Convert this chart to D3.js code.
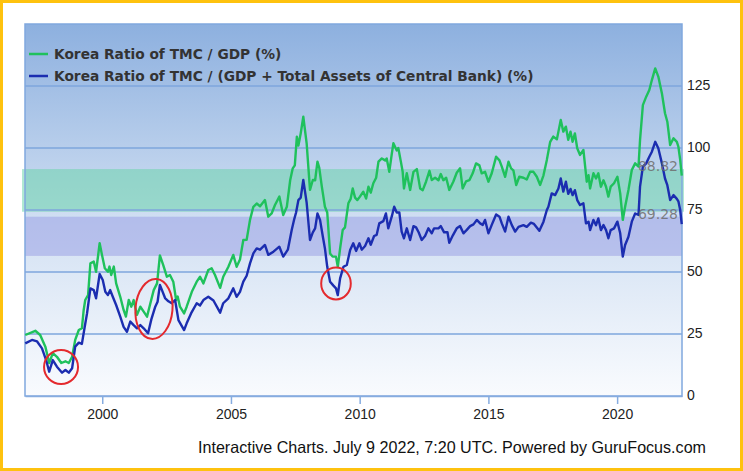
<!DOCTYPE html>
<html><head><meta charset="utf-8">
<script src="https://cdn.jsdelivr.net/npm/d3@7"></script>
<style>body{margin:0;background:#fff;} svg{display:block}</style>
</head><body>
<svg id="c" width="743" height="471"></svg>
<script>
// ---------- data ----------
const seriesNames = ["Korea Ratio of TMC / GDP (%)", "Korea Ratio of TMC / (GDP + Total Assets of Central Bank) (%)"];
const greenSeries = [[1997.01,24.6],[1997.40,26.3],[1997.59,24.6],[1997.79,19.9],[1997.94,13.3],[1998.08,17.3],[1998.24,15.8],[1998.41,13.3],[1998.57,14],[1998.70,13.3],[1998.83,15.8],[1998.95,22.6],[1999.09,26.6],[1999.21,27.3],[1999.28,34.7],[1999.34,38.7],[1999.45,40.7],[1999.54,53.5],[1999.67,54.2],[1999.76,50.1],[1999.90,61.6],[1999.99,56.9],[2000.10,51.5],[2000.22,50.1],[2000.28,52.2],[2000.35,48.8],[2000.45,52.2],[2000.54,45.4],[2000.70,40],[2000.83,34.7],[2000.92,32],[2001.03,38.7],[2001.13,36],[2001.22,38.7],[2001.35,32.7],[2001.48,36],[2001.61,34],[2001.74,32],[2001.87,37.4],[2002.00,42.7],[2002.13,45.4],[2002.24,56.7],[2002.37,52.8],[2002.51,48.1],[2002.63,48.8],[2002.76,46.1],[2002.87,38.7],[2002.93,40.1],[2003.02,36],[2003.18,33.3],[2003.28,36],[2003.48,42],[2003.67,46.1],[2003.80,48.1],[2003.93,45.4],[2004.12,50.8],[2004.25,51.5],[2004.38,48.8],[2004.58,43.6],[2004.70,48.1],[2004.90,52.1],[2005.09,56.9],[2005.22,52.1],[2005.35,55],[2005.48,62.9],[2005.61,63],[2005.74,71],[2005.87,76.3],[2006.00,77.6],[2006.13,76.5],[2006.32,79],[2006.45,72.3],[2006.58,73.6],[2006.71,77],[2006.88,80.4],[2007.03,73],[2007.17,76.3],[2007.30,87],[2007.40,91.8],[2007.48,93],[2007.56,104.6],[2007.62,101],[2007.71,105.9],[2007.81,112.6],[2007.94,101.9],[2008.07,83.1],[2008.18,87.1],[2008.27,87],[2008.36,94.5],[2008.43,92],[2008.53,84.4],[2008.65,76.3],[2008.74,74],[2008.85,57.5],[2008.95,56.2],[2009.08,56.2],[2009.15,52.1],[2009.24,59.5],[2009.34,66.9],[2009.43,68],[2009.56,77.7],[2009.65,79.5],[2009.73,83.7],[2009.82,80],[2009.91,79],[2010.01,80.4],[2010.14,82.4],[2010.25,79.6],[2010.34,84.4],[2010.43,82],[2010.53,85.8],[2010.64,88],[2010.73,94.5],[2010.86,95.8],[2010.99,95],[2011.05,95.8],[2011.15,90.4],[2011.25,97.8],[2011.31,101.9],[2011.44,99],[2011.50,100],[2011.60,94.5],[2011.67,90.4],[2011.72,83.7],[2011.83,89.8],[2011.96,83.1],[2012.09,90.4],[2012.22,91.5],[2012.35,83.7],[2012.45,83],[2012.58,86.5],[2012.71,90.8],[2012.80,87.1],[2012.93,88],[2013.06,87],[2013.15,89.5],[2013.25,87],[2013.36,88],[2013.48,83.1],[2013.64,86.5],[2013.77,90],[2013.90,91.8],[2014.00,83.7],[2014.13,86.5],[2014.26,87],[2014.39,89.8],[2014.52,93.8],[2014.65,93],[2014.74,89.8],[2014.87,90.4],[2015.00,86.4],[2015.13,89.8],[2015.30,96.5],[2015.43,95],[2015.52,92.5],[2015.65,88.4],[2015.78,94.5],[2015.88,91.8],[2015.97,91],[2016.08,85.1],[2016.20,88.4],[2016.36,88],[2016.49,87.3],[2016.62,90.4],[2016.75,90.4],[2016.88,88.4],[2017.01,85.1],[2017.14,89],[2017.27,95.2],[2017.40,102.5],[2017.52,104.6],[2017.66,103.5],[2017.72,106.6],[2017.81,111.3],[2017.91,106.6],[2018.01,108.6],[2018.10,103.3],[2018.19,106.6],[2018.27,102.5],[2018.36,105.9],[2018.45,99.9],[2018.56,97.2],[2018.69,99.2],[2018.82,86.4],[2018.89,89],[2018.95,83.7],[2019.08,89.8],[2019.18,87.7],[2019.27,89.8],[2019.37,84.4],[2019.47,87],[2019.57,84.4],[2019.66,80.4],[2019.75,84.4],[2019.88,85.8],[2020.01,88.4],[2020.12,81.7],[2020.22,71],[2020.31,76.3],[2020.44,83.1],[2020.57,91.1],[2020.70,93.8],[2020.83,92.5],[2020.89,103.2],[2021.00,117.3],[2021.13,120.7],[2021.25,123.4],[2021.35,127.4],[2021.48,132.1],[2021.60,128.8],[2021.74,122],[2021.86,114],[2021.95,110.6],[2022.06,101.2],[2022.19,103.9],[2022.32,102.5],[2022.38,100.5],[2022.45,95.2],[2022.51,88.82]];
const blueSeries = [[1997.01,21.2],[1997.27,22.6],[1997.47,22],[1997.66,19.2],[1997.82,14.5],[1997.94,9.8],[1998.08,14.5],[1998.24,11.8],[1998.44,9.4],[1998.57,10.5],[1998.70,9.4],[1998.83,11.2],[1998.95,19.9],[1999.09,21.5],[1999.21,21],[1999.32,27.9],[1999.41,33.3],[1999.54,43.4],[1999.67,42.7],[1999.76,39.4],[1999.90,49.2],[2000.02,46.8],[2000.12,42],[2000.22,40.7],[2000.31,42.7],[2000.41,40],[2000.54,36.7],[2000.70,32],[2000.83,27.9],[2000.96,25.9],[2001.09,30],[2001.22,28.6],[2001.35,27.3],[2001.48,28.6],[2001.61,27.3],[2001.78,25.3],[2001.91,31],[2002.06,36],[2002.15,38],[2002.24,44.8],[2002.44,39.5],[2002.57,38.2],[2002.70,37.4],[2002.83,38.7],[2002.96,30.6],[2003.18,26.6],[2003.28,29.3],[2003.45,33.3],[2003.67,37.4],[2003.80,36.5],[2003.93,38.7],[2004.12,40],[2004.32,38.5],[2004.58,33.6],[2004.70,37.4],[2004.90,39.4],[2005.09,43.4],[2005.22,40],[2005.35,42],[2005.48,46.1],[2005.61,48.5],[2005.74,53.5],[2005.87,57.5],[2006.00,59.5],[2006.13,59],[2006.32,60.9],[2006.45,56.9],[2006.65,58.2],[2006.88,60.2],[2007.03,56.2],[2007.21,59],[2007.36,66.9],[2007.45,71],[2007.53,74],[2007.62,79],[2007.71,80],[2007.81,87.1],[2007.94,78],[2008.07,62.9],[2008.18,66],[2008.27,67.6],[2008.36,73.6],[2008.46,71],[2008.57,64.2],[2008.65,59.5],[2008.74,52.1],[2008.85,46.1],[2008.98,44.5],[2009.08,43.4],[2009.15,40.7],[2009.24,47.4],[2009.37,52.1],[2009.50,52.8],[2009.63,58.9],[2009.75,61.6],[2009.86,58.5],[2009.99,61.6],[2010.08,59],[2010.21,60.5],[2010.34,63.6],[2010.43,61],[2010.56,64.5],[2010.66,65],[2010.76,69.6],[2010.92,70.5],[2011.02,73.6],[2011.11,67.6],[2011.25,72.5],[2011.34,76.3],[2011.44,74],[2011.54,74],[2011.63,66.3],[2011.72,63.6],[2011.83,67.6],[2011.96,62.9],[2012.09,68.5],[2012.19,68],[2012.29,66],[2012.41,62.9],[2012.54,64.5],[2012.67,67.6],[2012.80,65.6],[2012.89,67.6],[2013.06,67.6],[2013.15,68.5],[2013.28,66],[2013.41,66],[2013.48,61.8],[2013.62,64.8],[2013.77,67.6],[2013.90,68.5],[2014.03,65.6],[2014.16,67],[2014.29,68.5],[2014.42,69.2],[2014.55,71],[2014.68,69.6],[2014.78,69],[2014.87,71],[2015.00,65.6],[2015.13,69],[2015.30,73.2],[2015.43,72.3],[2015.52,69.6],[2015.65,66.3],[2015.78,72.3],[2015.91,68.9],[2016.04,66.3],[2016.17,68.2],[2016.36,68.9],[2016.49,68.2],[2016.65,69.9],[2016.77,69.4],[2016.98,66.6],[2017.14,70.3],[2017.27,75],[2017.33,76.3],[2017.46,81.7],[2017.59,81],[2017.72,83.7],[2017.81,87.7],[2017.91,82.4],[2018.01,86.4],[2018.10,81.5],[2018.19,83.5],[2018.27,81],[2018.36,83],[2018.45,79],[2018.56,77],[2018.69,77.7],[2018.79,69.6],[2018.89,70.3],[2018.95,66.9],[2019.08,71],[2019.18,68.9],[2019.27,71.6],[2019.37,66.9],[2019.47,68.9],[2019.57,66.9],[2019.66,63.6],[2019.75,66.9],[2019.88,67.6],[2020.01,70.3],[2020.12,65.6],[2020.22,56.2],[2020.31,60.9],[2020.44,64.2],[2020.57,70.3],[2020.70,73.6],[2020.83,73],[2020.89,84.4],[2021.00,92.5],[2021.13,93.8],[2021.25,96.5],[2021.35,98.5],[2021.48,102.5],[2021.60,99.9],[2021.74,93.8],[2021.86,87.7],[2021.95,85],[2022.06,79],[2022.19,81],[2022.32,79.5],[2022.38,78.5],[2022.45,75],[2022.51,69.28]];
const yTicks = [0, 25, 50, 75, 100, 125];
const xTicks = [2000, 2005, 2010, 2015, 2020];
const greenBand = [74.3, 91.5];
const blueBand = [56.5, 72.3];
const endLabels = ["88.82", "69.28"];
const xDomain = [1997.0, 2022.52];
const yDomain = [0, 150];
// red annotation ellipses, centres in data units: [year, value, rx(px), ry(px), rotation]
const circleNotes = [[1998.40, 11.7, 17, 17, 0], [2002.01, 35.1, 18.5, 30, 5], [2009.08, 45.4, 14.8, 16, 0]];
const footerText = "Interactive Charts. July 9 2022, 7:20 UTC. Powered by GuruFocus.com";

// ---------- layout ----------
const L = 25, R = 682, T = 24, B = 396;
const svg = d3.select("#c");
const x = d3.scaleLinear().domain(xDomain).range([L, R]);
const y = d3.scaleLinear().domain(yDomain).range([B, T]);

// outer frame
svg.append("rect").attr("x", 0).attr("y", 0).attr("width", 743).attr("height", 471).attr("fill", "#fff");
svg.append("rect").attr("x", 1.5).attr("y", 1.5).attr("width", 740).attr("height", 468)
  .attr("fill", "none").attr("stroke", "#FEC20F").attr("stroke-width", 3);

// background gradient
const defs = svg.append("defs");
const grad = defs.append("linearGradient").attr("id", "bg").attr("x1", 0).attr("y1", 0).attr("x2", 0).attr("y2", 1);
grad.append("stop").attr("offset", "0%").attr("stop-color", "#8db0df");
grad.append("stop").attr("offset", "55%").attr("stop-color", "#d3e1f3");
grad.append("stop").attr("offset", "100%").attr("stop-color", "#f9fbfe");
svg.append("rect").attr("x", L).attr("y", T).attr("width", R - L).attr("height", B - T).attr("fill", "url(#bg)");

// bands
svg.append("rect").attr("x", L - 3).attr("width", R - L + 5)
  .attr("y", y(greenBand[1])).attr("height", y(greenBand[0]) - y(greenBand[1]))
  .attr("fill", "rgb(100,212,165)").attr("fill-opacity", 0.5);
svg.append("rect").attr("x", L).attr("width", R - L)
  .attr("y", y(blueBand[1])).attr("height", y(blueBand[0]) - y(blueBand[1]))
  .attr("fill", "rgb(150,155,228)").attr("fill-opacity", 0.5);

// grid lines
svg.append("g").selectAll("line").data(yTicks.filter(d => d > 0)).join("line")
  .attr("x1", L).attr("x2", R).attr("y1", d => y(d)).attr("y2", d => y(d))
  .attr("stroke", "#7ea6dc").attr("stroke-width", 1.5);

// plot border
svg.append("rect").attr("x", L).attr("y", T).attr("width", R - L).attr("height", B - T)
  .attr("fill", "none").attr("stroke", "#80a8de").attr("stroke-width", 1.5);

// lines
const line = d3.line().x(d => x(d[0])).y(d => y(d[1]));
svg.append("path").datum(greenSeries).attr("d", line).attr("fill", "none")
  .attr("stroke", "#1fc15c").attr("stroke-width", 2.4).attr("stroke-linejoin", "round");
svg.append("path").datum(blueSeries).attr("d", line).attr("fill", "none")
  .attr("stroke", "#1b2db0").attr("stroke-width", 2.4).attr("stroke-linejoin", "round");

// end labels
const lastVals = [greenSeries[greenSeries.length - 1], blueSeries[blueSeries.length - 1]];
svg.append("g").selectAll("text").data(endLabels).join("text")
  .attr("x", R - 4).attr("y", (d, i) => y(lastVals[i][1]) - 9)
  .attr("text-anchor", "end").attr("dominant-baseline", "middle")
  .attr("font-family", "'DejaVu Sans', sans-serif").attr("font-size", 14)
  .attr("fill", "#6e6e6e").attr("fill-opacity", 0.85).text(d => d);

// red ellipses
svg.append("g").selectAll("ellipse").data(circleNotes).join("ellipse")
  .attr("transform", d => `translate(${x(d[0])},${y(d[1])}) rotate(${d[4]})`)
  .attr("rx", d => d[2]).attr("ry", d => d[3])
  .attr("fill", "none").attr("stroke", "#e42a2e").attr("stroke-width", 2);

// legend
const legColors = ["#1fc15c", "#1b2db0"];
const leg = svg.append("g");
seriesNames.forEach((name, i) => {
  const yy = 54 + i * 22;
  leg.append("line").attr("x1", 29).attr("x2", 48).attr("y1", yy).attr("y2", yy)
    .attr("stroke", legColors[i]).attr("stroke-width", 2.5);
  leg.append("text").attr("class", "legtxt").attr("x", 54).attr("y", yy + 5)
    .attr("font-family", "'DejaVu Sans', sans-serif").attr("font-weight", "bold")
    .attr("font-size", 13).attr("fill", "#333").text(name);
});
{
  const t = leg.selectAll("text.legtxt").nodes()[1];
  const w = t.getComputedTextLength();
  const fs = 13 * 480 / w;
  leg.selectAll("text.legtxt").attr("font-size", fs);
}

// y axis labels (right)
svg.append("g").selectAll("text").data(yTicks).join("text")
  .attr("x", 687).attr("y", d => y(d)).attr("dominant-baseline", "middle")
  .attr("font-family", "'Liberation Sans', Arial, sans-serif").attr("font-size", 14)
  .attr("fill", "#222").text(d => d);

// x axis
const xAxis = d3.axisBottom(x).tickValues(xTicks).tickFormat(d3.format("d")).tickSize(8).tickSizeOuter(0);
const gx = svg.append("g").attr("transform", `translate(0,${B})`).call(xAxis);
gx.select(".domain").attr("stroke", "#86ace0").attr("stroke-width", 1.5);
gx.selectAll(".tick line").attr("stroke", "#86ace0").attr("stroke-width", 1.5);
gx.selectAll(".tick text").attr("font-family", "'Liberation Sans', Arial, sans-serif")
  .attr("font-size", 14).attr("fill", "#222").attr("dy", "0.85em");

// footer (condensed look)
svg.append("text").attr("x", 198).attr("y", 453)
  .attr("font-family", "'Liberation Sans', Arial, sans-serif")
  .attr("font-size", 16.5).attr("fill", "#111")
  .attr("textLength", 508).attr("lengthAdjust", "spacingAndGlyphs").text(footerText);
</script>
</body></html>
